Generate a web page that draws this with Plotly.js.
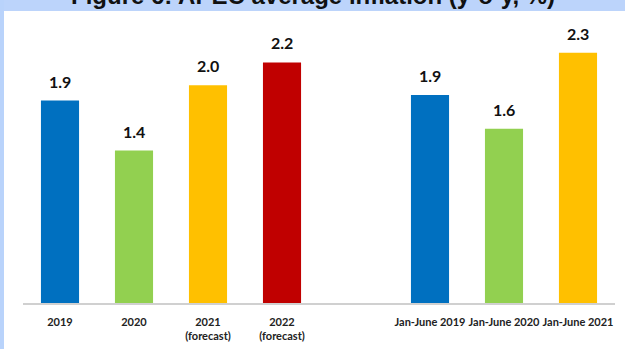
<!DOCTYPE html>
<html>
<head>
<meta charset="utf-8">
<script src="https://cdn.plot.ly/plotly-3.0.1.min.js"></script>
<style>
html,body{margin:0;padding:0;background:#ffffff;}
#chart{width:625px;height:349px;}
</style>
</head>
<body>
<div id="chart"></div>
<script>
// Data
var categories = ["2019", "2020", "2021<br>(forecast)", "2022<br>(forecast)", "", "Jan-June 2019", "Jan-June 2020", "Jan-June 2021"];
var values = [1.86, 1.40, 2.00, 2.21, 0, 1.91, 1.60, 2.30];
var labels = ["1.9", "1.4", "2.0", "2.2", "", "1.9", "1.6", "2.3"];
var colors = ["#0070c0", "#92d050", "#ffc000", "#c00000", "#ffffff", "#0070c0", "#92d050", "#ffc000"];
var titleText = "Figure 6: APEC average inflation (y-o-y, %)";

var positions = categories.map(function (c, i) { return i; });

var trace = {
  type: "bar",
  x: positions,
  y: values,
  width: 0.515,
  marker: {color: colors},
  hoverinfo: "skip"
};

var annotations = [];
for (var i = 0; i < categories.length; i++) {
  if (labels[i] === "") continue;
  annotations.push({
    x: positions[i], y: values[i], xref: "x", yref: "y",
    text: "<b>" + labels[i] + "</b>", showarrow: false,
    yanchor: "bottom", yshift: 8,
    font: {family: "Lato, 'Open Sans', sans-serif", size: 16, color: "#111111"}
  });
}
annotations.push({
  xref: "paper", yref: "paper", x: 0.49, y: 1.085, xanchor: "center", yanchor: "middle",
  text: "<b>" + titleText + "</b>", showarrow: false,
  font: {family: "'Liberation Sans', Arial, sans-serif", size: 24, color: "#111111"}
});

var layout = {
  width: 625, height: 349,
  margin: {l: 23, r: 10, t: 20, b: 46, pad: 0},
  paper_bgcolor: "#ffffff",
  plot_bgcolor: "rgba(0,0,0,0)",
  showlegend: false,
  xaxis: {
    range: [-0.5, categories.length - 0.5],
    tickmode: "array",
    tickvals: positions,
    ticktext: categories.map(function (c) { return "<b>" + c + "</b>"; }),
    tickangle: 0,
    automargin: false,
    showgrid: false, zeroline: false,
    showline: true, linecolor: "#d0d0d0", linewidth: 1.5,
    ticks: "outside", ticklen: 8, tickcolor: "rgba(0,0,0,0)",
    tickfont: {family: "Lato, 'Open Sans', sans-serif", size: 11, color: "#222222"},
    fixedrange: true
  },
  yaxis: {
    range: [0, 2.6],
    visible: false,
    showgrid: false, zeroline: false,
    fixedrange: true
  },
  shapes: [
    {type: "rect", xref: "paper", yref: "paper", layer: "below",
     x0: -0.04, x1: 1.02, y0: 1.0318, y1: 1.2, fillcolor: "#bcd4fb", line: {width: 0}},
    {type: "rect", xref: "paper", yref: "paper", layer: "below",
     x0: -0.04, x1: -0.0321, y0: -0.2, y1: 1.2, fillcolor: "#b9d3fb", line: {width: 0}}
  ],
  annotations: annotations
};

Plotly.newPlot("chart", [trace], layout, {displayModeBar: false, staticPlot: true});
</script>
</body>
</html>
